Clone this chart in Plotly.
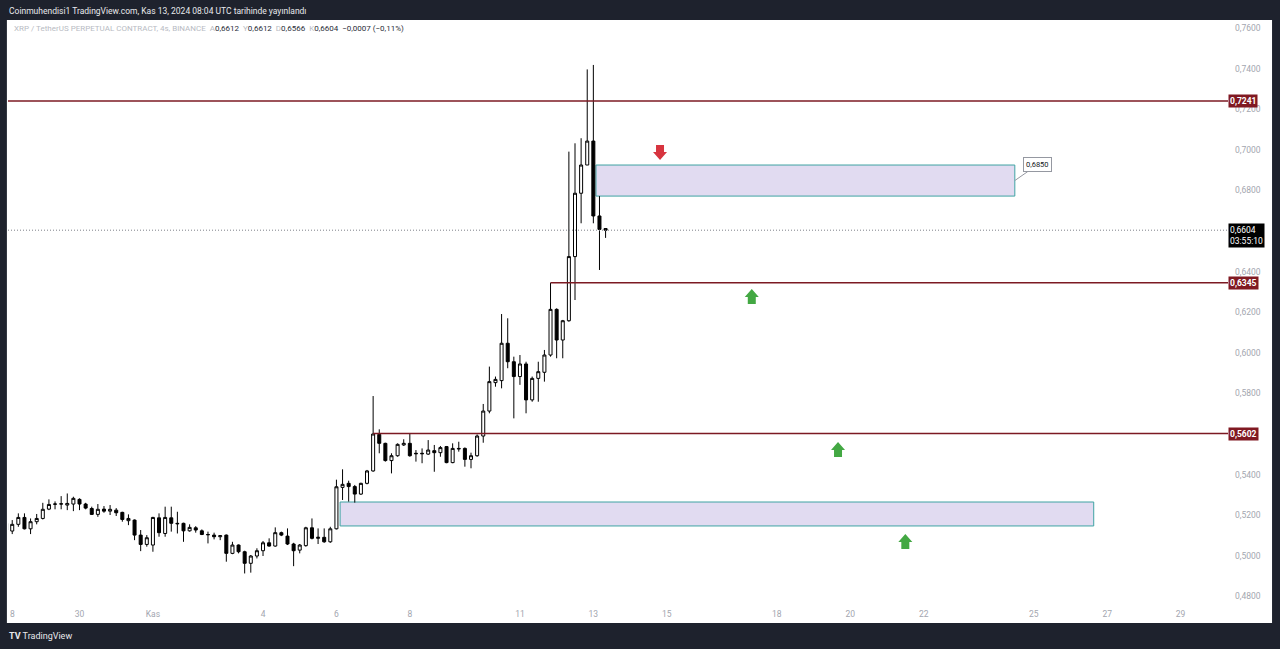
import pandas as pd
import plotly.graph_objects as go

# ---------------- data (XRP/USDT perp, 4h candles from 2024-10-28 00:00 UTC) ----------------
start = pd.Timestamp("2024-10-28 00:00")
opens = [0.5160, 0.5122, 0.5155, 0.5189, 0.5133, 0.5168, 0.5184, 0.5230, 0.5254, 0.5255,
         0.5250, 0.5255, 0.5278, 0.5255, 0.5233, 0.5204, 0.5230, 0.5220, 0.5225, 0.5214,
         0.5173, 0.5176, 0.5102, 0.5056, 0.5053, 0.5187, 0.5110, 0.5187, 0.5160, 0.5160,
         0.5123, 0.5138, 0.5123, 0.5105, 0.5102, 0.5094, 0.5102, 0.5012, 0.5053, 0.5020,
         0.4963, 0.4999, 0.5025, 0.5064, 0.5048, 0.5114, 0.5097, 0.5058, 0.5028, 0.5050,
         0.5138, 0.5086, 0.5091, 0.5069, 0.5133, 0.5337, 0.5357, 0.5341, 0.5304, 0.5357,
         0.5418, 0.5598, 0.5554, 0.5469, 0.5493, 0.5546, 0.5554, 0.5505, 0.5505, 0.5501,
         0.5518, 0.5508, 0.5538, 0.5459, 0.5529, 0.5529, 0.5475, 0.5493, 0.5590, 0.5713,
         0.5853, 0.5863, 0.6047, 0.5956, 0.5883, 0.5945, 0.5768, 0.5874, 0.5904, 0.5989,
         0.6214, 0.6063, 0.6158, 0.6474, 0.6786, 0.6925, 0.7043, 0.6674, 0.6612]
highs = [0.5168, 0.5176, 0.5209, 0.5209, 0.5184, 0.5206, 0.5261, 0.5278, 0.5268, 0.5294,
         0.5307, 0.5291, 0.5283, 0.5261, 0.5242, 0.5255, 0.5245, 0.5250, 0.5235, 0.5217,
         0.5204, 0.5179, 0.5127, 0.5102, 0.5192, 0.5209, 0.5242, 0.5242, 0.5217, 0.5163,
         0.5155, 0.5146, 0.5130, 0.5119, 0.5114, 0.5102, 0.5105, 0.5069, 0.5056, 0.5025,
         0.5004, 0.5037, 0.5073, 0.5086, 0.5140, 0.5119, 0.5135, 0.5064, 0.5058, 0.5143,
         0.5184, 0.5135, 0.5135, 0.5143, 0.5375, 0.5426, 0.5370, 0.5349, 0.5360, 0.5423,
         0.5787, 0.5623, 0.5557, 0.5505, 0.5554, 0.5574, 0.5603, 0.5521, 0.5529, 0.5570,
         0.5546, 0.5541, 0.5541, 0.5554, 0.5562, 0.5534, 0.5508, 0.5598, 0.5748, 0.5932,
         0.5883, 0.6191, 0.6170, 0.5981, 0.5989, 0.5956, 0.5883, 0.5956, 0.6014, 0.6345,
         0.6219, 0.6162, 0.6991, 0.7032, 0.7057, 0.7396, 0.7418, 0.6772, 0.6612]
lows = [0.5119, 0.5107, 0.5143, 0.5130, 0.5107, 0.5155, 0.5179, 0.5225, 0.5229, 0.5229,
        0.5225, 0.5220, 0.5225, 0.5229, 0.5201, 0.5192, 0.5212, 0.5201, 0.5196, 0.5168,
        0.5151, 0.5077, 0.5023, 0.5045, 0.5020, 0.5094, 0.5094, 0.5119, 0.5110, 0.5069,
        0.5119, 0.5114, 0.5102, 0.5061, 0.5081, 0.5077, 0.4971, 0.5008, 0.5012, 0.4913,
        0.4917, 0.4987, 0.4999, 0.5045, 0.5045, 0.5097, 0.5053, 0.4949, 0.5012, 0.5045,
        0.5081, 0.5058, 0.5064, 0.5064, 0.5130, 0.5275, 0.5267, 0.5262, 0.5300, 0.5352,
        0.5414, 0.5505, 0.5464, 0.5406, 0.5488, 0.5541, 0.5488, 0.5464, 0.5456, 0.5497,
        0.5414, 0.5488, 0.5456, 0.5456, 0.5513, 0.5439, 0.5431, 0.5488, 0.5557, 0.5702,
        0.5833, 0.5825, 0.5924, 0.5677, 0.5842, 0.5702, 0.5759, 0.5759, 0.5858, 0.5981,
        0.5973, 0.5973, 0.6153, 0.6260, 0.6638, 0.6925, 0.6638, 0.6408, 0.6566]
closes = [0.5127, 0.5155, 0.5189, 0.5133, 0.5168, 0.5184, 0.5229, 0.5253, 0.5255, 0.5256,
          0.5258, 0.5283, 0.5255, 0.5235, 0.5204, 0.5229, 0.5220, 0.5229, 0.5212, 0.5179,
          0.5184, 0.5102, 0.5056, 0.5089, 0.5189, 0.5114, 0.5189, 0.5160, 0.5158, 0.5123,
          0.5140, 0.5127, 0.5105, 0.5104, 0.5094, 0.5099, 0.5012, 0.5053, 0.5020, 0.4963,
          0.4999, 0.5025, 0.5064, 0.5048, 0.5114, 0.5102, 0.5058, 0.5025, 0.5053, 0.5138,
          0.5086, 0.5091, 0.5069, 0.5133, 0.5340, 0.5352, 0.5341, 0.5304, 0.5357, 0.5418,
          0.5600, 0.5554, 0.5469, 0.5493, 0.5549, 0.5554, 0.5493, 0.5503, 0.5503, 0.5521,
          0.5508, 0.5533, 0.5459, 0.5529, 0.5527, 0.5475, 0.5493, 0.5590, 0.5713, 0.5858,
          0.5869, 0.6047, 0.5956, 0.5883, 0.5945, 0.5768, 0.5874, 0.5907, 0.5989, 0.6214,
          0.6063, 0.6158, 0.6474, 0.6786, 0.6925, 0.7043, 0.6674, 0.6608, 0.6604]
times = pd.date_range(start, periods=len(opens), freq="4h")

# price ticks (0.56 and 0.66 are hidden behind the level / last-price labels) and day ticks
price_ticks = [0.48, 0.50, 0.52, 0.54, 0.58, 0.60, 0.62, 0.64, 0.68, 0.70, 0.72, 0.74, 0.76]
day_ticks = ["2024-10-30", "2024-11-01", "2024-11-04", "2024-11-06", "2024-11-08", "2024-11-11",
             "2024-11-13", "2024-11-15", "2024-11-18", "2024-11-20", "2024-11-22", "2024-11-25",
             "2024-11-27", "2024-11-29"]
day_labels = ["30", "Kas", "4", "6", "8", "11", "13", "15", "18", "20", "22", "25", "27", "29"]

# key levels / zones
levels = [0.7241, 0.6345, 0.5602]
level_starts = [0.3, 89, 60]            # candle index where each line starts
last_price = 0.6604
zone1 = (96.43, 164.9, 0.6772, 0.6925)  # candle-index x0, x1, price y0, y1
zone2 = (54.6, 177.8, 0.5147, 0.5265)
zone1_label = "0,6850"
arrows_down = [(106.9, 0.6984)]
arrows_up = [(121.9, 0.6280), (136.0, 0.5526), (147.0, 0.5073)]


def at(i):
    return start + pd.Timedelta(hours=4 * i)


def fmt(v):
    return f"{v:.4f}".replace(".", ",")


LEVEL_RED = "#7c1a23"
GRAY = "#a3a6af"
FONT = "Roboto"

fig = go.Figure()
fig.add_trace(go.Candlestick(
    x=times, open=opens, high=highs, low=lows, close=closes,
    increasing=dict(line=dict(color="#000000", width=1), fillcolor="#ffffff"),
    decreasing=dict(line=dict(color="#000000", width=1), fillcolor="#000000"),
    whiskerwidth=0, hoverinfo="skip", showlegend=False,
))

shapes = []
# white chart panel
shapes.append(dict(type="rect", xref="paper", yref="paper", x0=-0.0009, x1=1.0361,
                   y0=-0.0343, y1=1.0, fillcolor="#ffffff", line=dict(width=0), layer="below"))
# zones
for (a, b, lo, hi) in (zone1, zone2):
    shapes.append(dict(type="rect", xref="x", yref="y", x0=at(a), x1=at(b), y0=lo, y1=hi,
                       fillcolor="rgba(222,215,240,0.9)", line=dict(color="#3fa3a3", width=1),
                       layer="below"))
# levels
for lv, s in zip(levels, level_starts):
    shapes.append(dict(type="line", xref="x", yref="y", x0=at(s), x1=at(199.75), y0=lv, y1=lv,
                       line=dict(color=LEVEL_RED, width=1.5)))
# current price dotted line
shapes.append(dict(type="line", xref="paper", yref="y", x0=0, x1=1, y0=last_price, y1=last_price,
                   line=dict(color="#7d8089", width=1, dash="1px,2px")))
# arrows
down_path = "M -4,8 L 4,8 L 4,1 L 7,1 L 0,-7 L -7,1 L -4,1 Z"
up_path = "M -4,-8 L 4,-8 L 4,-1 L 7,-1 L 0,7 L -7,-1 L -4,-1 Z"
for (i, p) in arrows_down:
    shapes.append(dict(type="path", xref="x", yref="y", xsizemode="pixel", ysizemode="pixel",
                       xanchor=at(i), yanchor=p, path=down_path, fillcolor="#d7343f",
                       line=dict(width=0)))
for (i, p) in arrows_up:
    shapes.append(dict(type="path", xref="x", yref="y", xsizemode="pixel", ysizemode="pixel",
                       xanchor=at(i), yanchor=p, path=up_path, fillcolor="#43a843",
                       line=dict(width=0)))

annotations = []
# header title
annotations.append(dict(xref="paper", yref="paper", x=-0.0009, y=1.0154, xanchor="left",
                        yanchor="middle", showarrow=False,
                        text="Coinmuhendisi1 TradingView.com, Kas 13, 2024 08:04 UTC tarihinde yayınlandı",
                        font=dict(family=FONT, size=8.5, color="#e8e9ec")))
# legend line
lg = "#b8bbc3"
dk = "#2a2e39"
leg = (f"<span style='color:{lg}'>XRP / TetherUS PERPETUAL CONTRACT, 4s, BINANCE</span>  "
       f"<span style='color:{lg}'>A</span><span style='color:{dk}'>0,6612</span>  "
       f"<span style='color:{lg}'>Y</span><span style='color:{dk}'>0,6612</span>  "
       f"<span style='color:{lg}'>D</span><span style='color:{dk}'>0,6566</span>  "
       f"<span style='color:{lg}'>K</span><span style='color:{dk}'>0,6604</span>  "
       f"<span style='color:{dk}'>−0,0007 (−0,11%)</span>")
annotations.append(dict(xref="paper", yref="paper", x=0.0033, y=0.9846, xanchor="left",
                        yanchor="middle", showarrow=False, text=leg,
                        font=dict(family=FONT, size=8, color=dk)))
# clipped first day label at the left edge
annotations.append(dict(xref="paper", yref="paper", x=0.0, y=-0.0189, xanchor="left",
                        yanchor="middle", showarrow=False, text="8",
                        font=dict(family=FONT, size=8.5, color=GRAY)))
# level price labels
for lv in levels:
    annotations.append(dict(xref="paper", yref="y", x=1.0, y=lv, xanchor="left", yanchor="middle",
                            showarrow=False, text=f"<b>{fmt(lv)}</b>", bgcolor="#801922",
                            font=dict(family=FONT, size=8.5, color="#ffffff"), borderpad=1))
# current price label
annotations.append(dict(xref="paper", yref="y", x=1.0, y=last_price, xanchor="left", yanchor="top",
                        yshift=7, showarrow=False, text=f"{fmt(last_price)}<br>03:55:10",
                        bgcolor="#000000", font=dict(family=FONT, size=8.5, color="#ffffff"),
                        borderpad=1, align="left"))
# zone callout
annotations.append(dict(xref="x", yref="y", x=at(zone1[1]), y=(zone1[2] + zone1[3]) / 2,
                        ax=23, ay=-16, showarrow=True, arrowhead=0, arrowwidth=1,
                        arrowcolor="#9598a1", text=zone1_label, bgcolor="#ffffff",
                        bordercolor="#9598a1", borderwidth=1, borderpad=2,
                        font=dict(family=FONT, size=7.5, color="#131722")))
# TradingView footer
annotations.append(dict(xref="paper", yref="paper", x=-0.0009, y=-0.0566, xanchor="left",
                        yanchor="middle", showarrow=False,
                        text="<b>TV</b> TradingView",
                        font=dict(family=FONT, size=9, color="#e8e9ec")))

fig.update_layout(
    width=1280, height=649,
    margin=dict(l=8, r=52, t=20, b=46, pad=0),
    paper_bgcolor="#1e222d", plot_bgcolor="#ffffff",
    shapes=shapes, annotations=annotations,
    hovermode=False, dragmode=False,
    xaxis=dict(type="date", range=[at(0.31), at(199.75)], rangeslider=dict(visible=False),
               tickvals=pd.to_datetime(day_ticks), ticktext=day_labels, showgrid=False,
               zeroline=False, showline=False, ticks="", ticklabelstandoff=4,
               tickfont=dict(family=FONT, size=8.5, color=GRAY)),
    yaxis=dict(side="right", range=[0.47675, 0.76394], tickvals=price_ticks,
               ticktext=[fmt(v) for v in price_ticks], showgrid=False, zeroline=False,
               showline=False, ticks="", ticklabelstandoff=6,
               tickfont=dict(family=FONT, size=8.5, color=GRAY)),
)

fig.write_html("out.html")
